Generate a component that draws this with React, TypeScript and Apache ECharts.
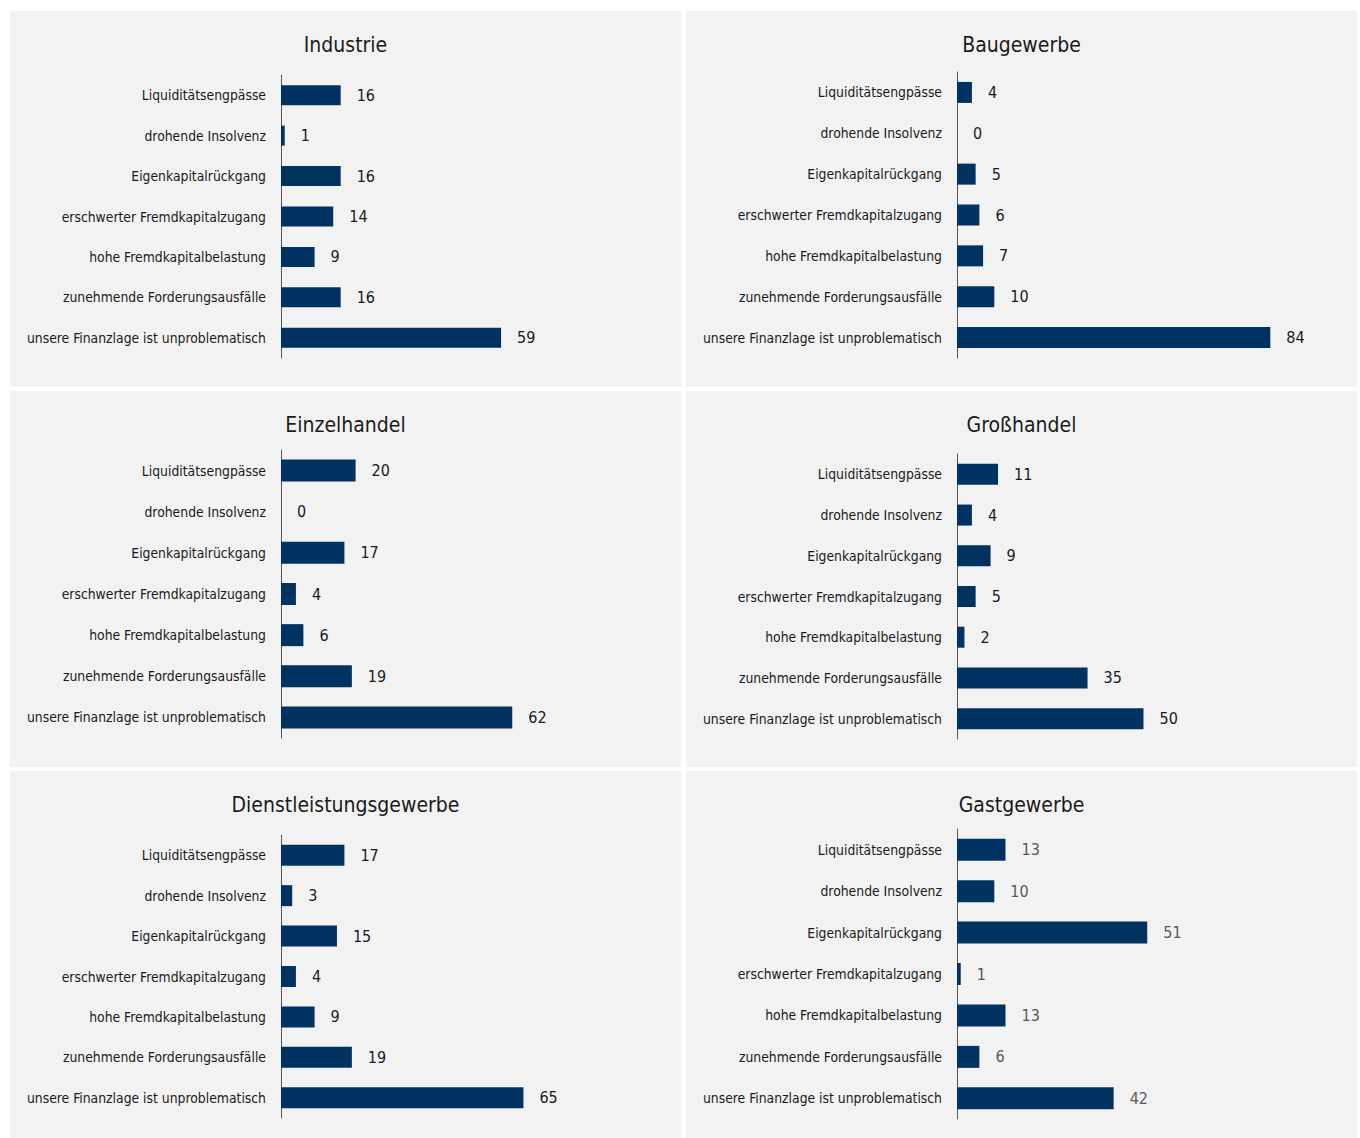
import React, { useEffect, useRef } from "react";
import * as echarts from "echarts";

const categories = [
  "Liquiditätsengpässe",
  "drohende Insolvenz",
  "Eigenkapitalrückgang",
  "erschwerter Fremdkapitalzugang",
  "hohe Fremdkapitalbelastung",
  "zunehmende Forderungsausfälle",
  "unsere Finanzlage ist unproblematisch",
];

const industrie = [16, 1, 16, 14, 9, 16, 59];
const baugewerbe = [4, 0, 5, 6, 7, 10, 84];
const einzelhandel = [20, 0, 17, 4, 6, 19, 62];
const grosshandel = [11, 4, 9, 5, 2, 35, 50];
const dienstleistung = [17, 3, 15, 4, 9, 19, 65];
const gastgewerbe = [13, 10, 51, 1, 13, 6, 42];

const panelTitles = [
  "Industrie",
  "Baugewerbe",
  "Einzelhandel",
  "Großhandel",
  "Dienstleistungsgewerbe",
  "Gastgewerbe",
];
const panelValues = [industrie, baugewerbe, einzelhandel, grosshandel, dienstleistung, gastgewerbe];

// layout (pixels)
const colX = [10, 686];
const colW = 671;
const rowY = [11, 391, 771];
const rowH = [376, 376, 367];
const titleY = [45, 425, 805];
const grids = [
  { left: 281, top: 75, height: 283, bw: 20 },
  { left: 957, top: 72, height: 286, bw: 21 },
  { left: 281, top: 450, height: 288, bw: 22 },
  { left: 957, top: 454, height: 285, bw: 21 },
  { left: 281, top: 835, height: 283, bw: 21 },
  { left: 957, top: 829, height: 290, bw: 22 },
];

const FONT = "'DejaVu Sans Condensed', 'Liberation Sans', sans-serif";
const BAR = "#003362";
const TXT = "#1a1a1a";

export default function App() {
  const ref = useRef<HTMLDivElement>(null);
  useEffect(() => {
    if (!ref.current) return;
    const chart = echarts.init(ref.current, undefined, { renderer: "svg" });

    const graphic: any[] = [];
    for (let r = 0; r < 3; r++) {
      for (let c = 0; c < 2; c++) {
        graphic.push({
          type: "rect",
          z: -10,
          silent: true,
          shape: { x: colX[c], y: rowY[r], width: colW, height: rowH[r] },
          style: { fill: "#f2f2f2" },
        });
        const idx = r * 2 + c;
        graphic.push({
          type: "text",
          x: colX[c] + colW / 2,
          y: titleY[r],
          style: {
            text: panelTitles[idx],
            fill: TXT,
            font: `21px ${FONT}`,
            textAlign: "center",
            textVerticalAlign: "middle",
          },
        });
      }
    }

    const option: any = {
      animation: false,
      backgroundColor: "#ffffff",
      graphic,
      grid: grids.map((g) => ({
        left: g.left,
        top: g.top,
        width: 373,
        height: g.height,
        containLabel: false,
        outerBoundsMode: "none",
      })),
      xAxis: grids.map((_, i) => ({
        type: "value",
        gridIndex: i,
        min: 0,
        max: 100,
        show: false,
      })),
      yAxis: grids.map((_, i) => ({
        type: "category",
        gridIndex: i,
        data: categories,
        inverse: true,
        axisTick: { show: false },
        axisLine: { show: true, lineStyle: { color: "#555555", width: 1 } },
        axisLabel: { color: TXT, fontSize: 13.8, fontFamily: FONT, margin: 15 },
        splitLine: { show: false },
      })),
      series: panelValues.map((vals, i) => ({
        type: "bar",
        xAxisIndex: i,
        yAxisIndex: i,
        data: vals,
        barWidth: grids[i].bw,
        itemStyle: { color: BAR },
        label: {
          show: true,
          position: "right",
          distance: 16,
          color: i === 5 ? "#595959" : TXT,
          fontSize: 16,
          fontFamily: FONT,
        },
      })),
    };
    chart.setOption(option);
    return () => chart.dispose();
  }, []);

  return (
    <div
      ref={ref}
      style={{ position: "fixed", left: 0, top: 0, width: 1360, height: 1138 }}
    />
  );
}
